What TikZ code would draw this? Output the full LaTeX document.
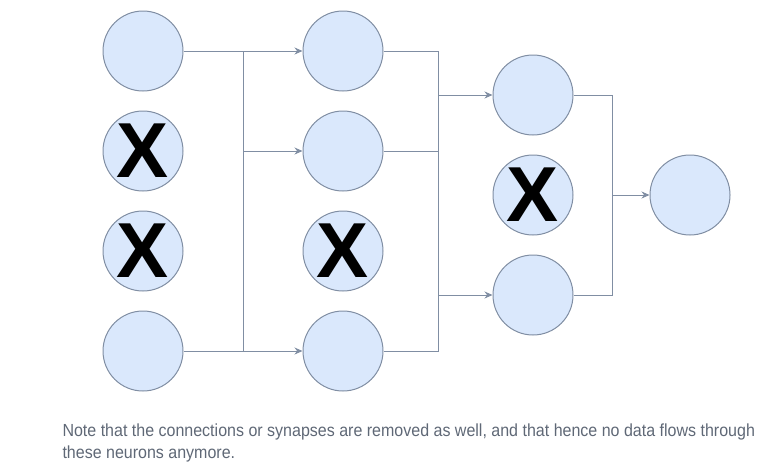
\documentclass[tikz,border=0pt]{standalone}
\usepackage{fontspec}
\setmainfont{Liberation Sans}
\newfontfamily\notefont[FakeStretch=0.915]{Liberation Sans}
\usetikzlibrary{arrows.meta,positioning}
\definecolor{nfill}{RGB}{218,232,252}
\definecolor{nline}{RGB}{128,142,163}
\definecolor{ntext}{RGB}{95,104,118}

\begin{document}
\begin{tikzpicture}[x=1pt,y=-1pt,line width=1pt,
  neuron/.style={draw=nline,fill=nfill,circle,minimum size=80pt,inner sep=0pt},
  dropped/.style={neuron,font=\fontsize{78}{78}\selectfont\bfseries},
  wire/.style={draw=nline},
  feed/.style={wire,-{Stealth[length=8pt,width=7pt]}}]

  \useasboundingbox (0,0) rectangle (775,464);

  % input layer
  \node[neuron]  (in1) at (143,51)  {};
  \node[dropped] (in2) at (143,151) {X};
  \node[dropped] (in3) at (143,251) {X};
  \node[neuron]  (in4) at (143,351) {};

  % first hidden layer
  \node[neuron]  (hA1) at (343,51)  {};
  \node[neuron]  (hA2) at (343,151) {};
  \node[dropped] (hA3) at (343,251) {X};
  \node[neuron]  (hA4) at (343,351) {};

  % second hidden layer
  \node[neuron]  (hB1) at (533,95)  {};
  \node[dropped] (hB2) at (533,195) {X};
  \node[neuron]  (hB3) at (533,295) {};

  % output
  \node[neuron]  (out) at (690,195) {};

  \coordinate (bus1) at (243,0);
  \coordinate (bus2) at (438,0);
  \coordinate (bus3) at (612,0);

  % input -> first hidden
  \draw[wire] (in1.east) -- (in1.east -| bus1) -- (in4.east -| bus1) -- (in4.east);
  \foreach \n in {hA1,hA2,hA4}
    \draw[feed] (\n.west -| bus1) -- (\n.west);

  % first hidden -> second hidden
  \draw[wire] (hA1.east) -- (hA1.east -| bus2) -- (hA4.east -| bus2) -- (hA4.east);
  \draw[wire] (hA2.east) -- (hA2.east -| bus2);
  \foreach \n in {hB1,hB3}
    \draw[feed] (\n.west -| bus2) -- (\n.west);

  % second hidden -> output
  \draw[wire] (hB1.east) -- (hB1.east -| bus3) -- (hB3.east -| bus3) -- (hB3.east);
  \draw[feed] (out.west -| bus3) -- (out.west);

  % caption
  \node[anchor=north west,align=left,inner sep=0pt,text=ntext,
    font=\notefont\fontsize{17.5}{22}\selectfont] (note) at (62,423.5)
    {Note that the connections or synapses are removed as well, and that hence no data flows through\\
     these neurons anymore.};

\end{tikzpicture}
\end{document}
